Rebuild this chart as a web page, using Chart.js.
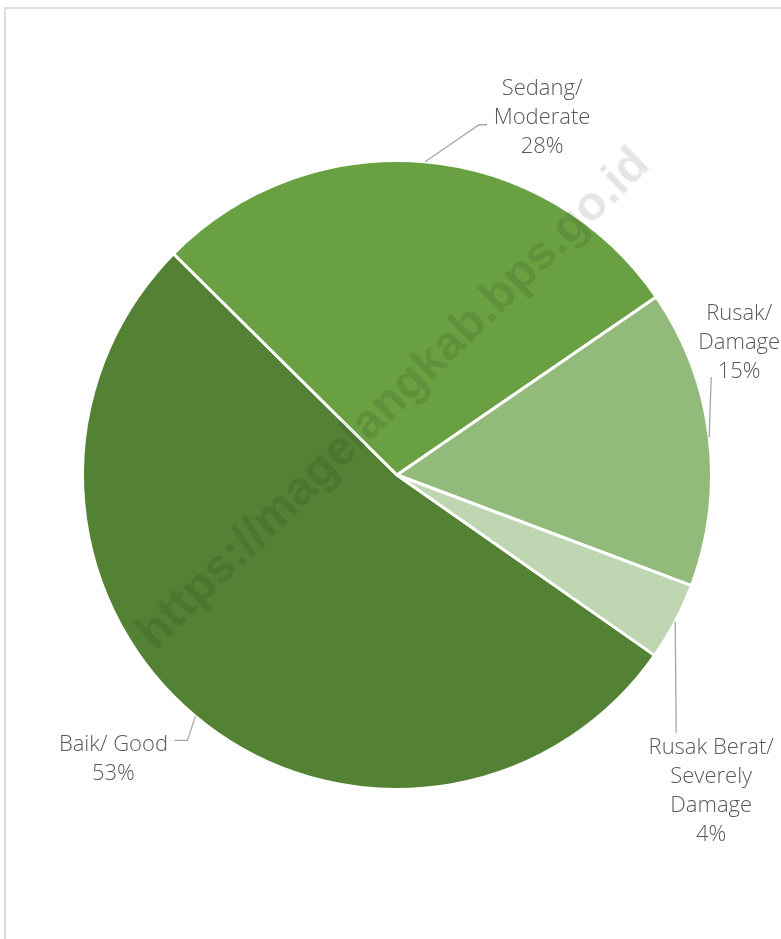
<!DOCTYPE html>
<html>
<head>
<meta charset="utf-8">
<script src="https://cdn.jsdelivr.net/npm/chart.js@4.4.1/dist/chart.umd.min.js"></script>
<style>
  html, body { margin: 0; padding: 0; background: #fff; }
  #wrap { position: relative; width: 781px; height: 939px; overflow: hidden; }
  #frame {
    position: absolute; left: 4px; top: 7px; width: 900px; height: 1000px;
    border-top: 2px solid #dcdcdc; border-left: 2px solid #dcdcdc;
  }
  #watermark {
    position: absolute; left: 392px; top: 397px;
    transform: translate(-50%, -50%) rotate(-44.3deg);
    font: bold 48px "Liberation Sans", Arial, sans-serif;
    color: rgba(0, 0, 0, 0.1);
    white-space: nowrap; pointer-events: none;
  }
  canvas { position: absolute; left: 0; top: 0; }
</style>
</head>
<body>
<div id="wrap">
  <div id="frame"></div>
  <canvas id="chart" width="781" height="939"></canvas>
  <div id="watermark">https://magelangkab.bps.go.id</div>
</div>
<script>
"use strict";

// ── Data ───────────────────────────────────────────────────────────────────
const CATEGORIES = ["Baik/ Good", "Sedang/ Moderate", "Rusak/ Damage", "Rusak Berat/ Severely Damage"];
const SHARES     = [52.7, 28.0, 15.3, 4.0];
const PCT_LABELS = ["53%", "28%", "15%", "4%"];
const LABEL_LINES = [
  ["Baik/ Good", "53%"],
  ["Sedang/", "Moderate", "28%"],
  ["Rusak/", "Damage", "15%"],
  ["Rusak Berat/", "Severely", "Damage", "4%"],
];
const COLORS = ["#548235", "#69a142", "#92ba7a", "#bfd6b2"];

// ── Label placement (offsets from the slice's outer mid-point) ─────────────
// path: leader-line points relative to the arc edge; text: block anchor.
const LABEL_STYLE = [
  { path: [[-8, 24], [-21, 24]], text: [-82, 14] },
  { path: [[54, -37], [62, -37]], text: [117, -88] },
  { path: [[2, -60]], text: [30, -138] },
  { path: [[1, 111]], text: [36, 112] },
];

const FONT = '300 22px "Open Sans", "Lato", sans-serif';
const LINE_H = 29;

// ── Leader-line label plugin ───────────────────────────────────────────────
const pieLabels = {
  id: "pieLabels",
  afterDatasetsDraw(chart) {
    const ctx = chart.ctx;
    const arcs = chart.getDatasetMeta(0).data;
    ctx.save();
    ctx.font = FONT;
    ctx.fillStyle = "#595959";
    ctx.strokeStyle = "#a6a6a6";
    ctx.lineWidth = 1.3;
    arcs.forEach((arc, i) => {
      const { x, y, startAngle, endAngle, outerRadius } = arc.getProps(
        ["x", "y", "startAngle", "endAngle", "outerRadius"], true);
      const mid = (startAngle + endAngle) / 2;
      const ex = x + Math.cos(mid) * outerRadius;
      const ey = y + Math.sin(mid) * outerRadius;
      const st = LABEL_STYLE[i];

      ctx.beginPath();
      ctx.moveTo(ex, ey);
      for (const [dx, dy] of st.path) ctx.lineTo(ex + dx, ey + dy);
      ctx.stroke();

      const tx = ex + st.text[0];
      const ty = ey + st.text[1];
      ctx.textAlign = "center";
      ctx.textBaseline = "middle";
      LABEL_LINES[i].forEach((line, k) => {
        ctx.fillText(line, tx, ty + LINE_H * (k + 0.5));
      });
    });
    ctx.restore();
  },
};

// ── Chart ──────────────────────────────────────────────────────────────────
new Chart(document.getElementById("chart").getContext("2d"), {
  type: "pie",
  data: {
    labels: CATEGORIES,
    datasets: [{
      data: SHARES,
      backgroundColor: COLORS,
      borderColor: "#ffffff",
      borderWidth: 3,
      borderAlign: "center",
    }],
  },
  options: {
    responsive: false,
    animation: false,
    rotation: 125,
    layout: { padding: { left: 81, right: 68, top: 159, bottom: 148 } },
    plugins: {
      legend: { display: false },
      tooltip: { enabled: false },
    },
  },
  plugins: [pieLabels],
});
</script>
</body>
</html>
